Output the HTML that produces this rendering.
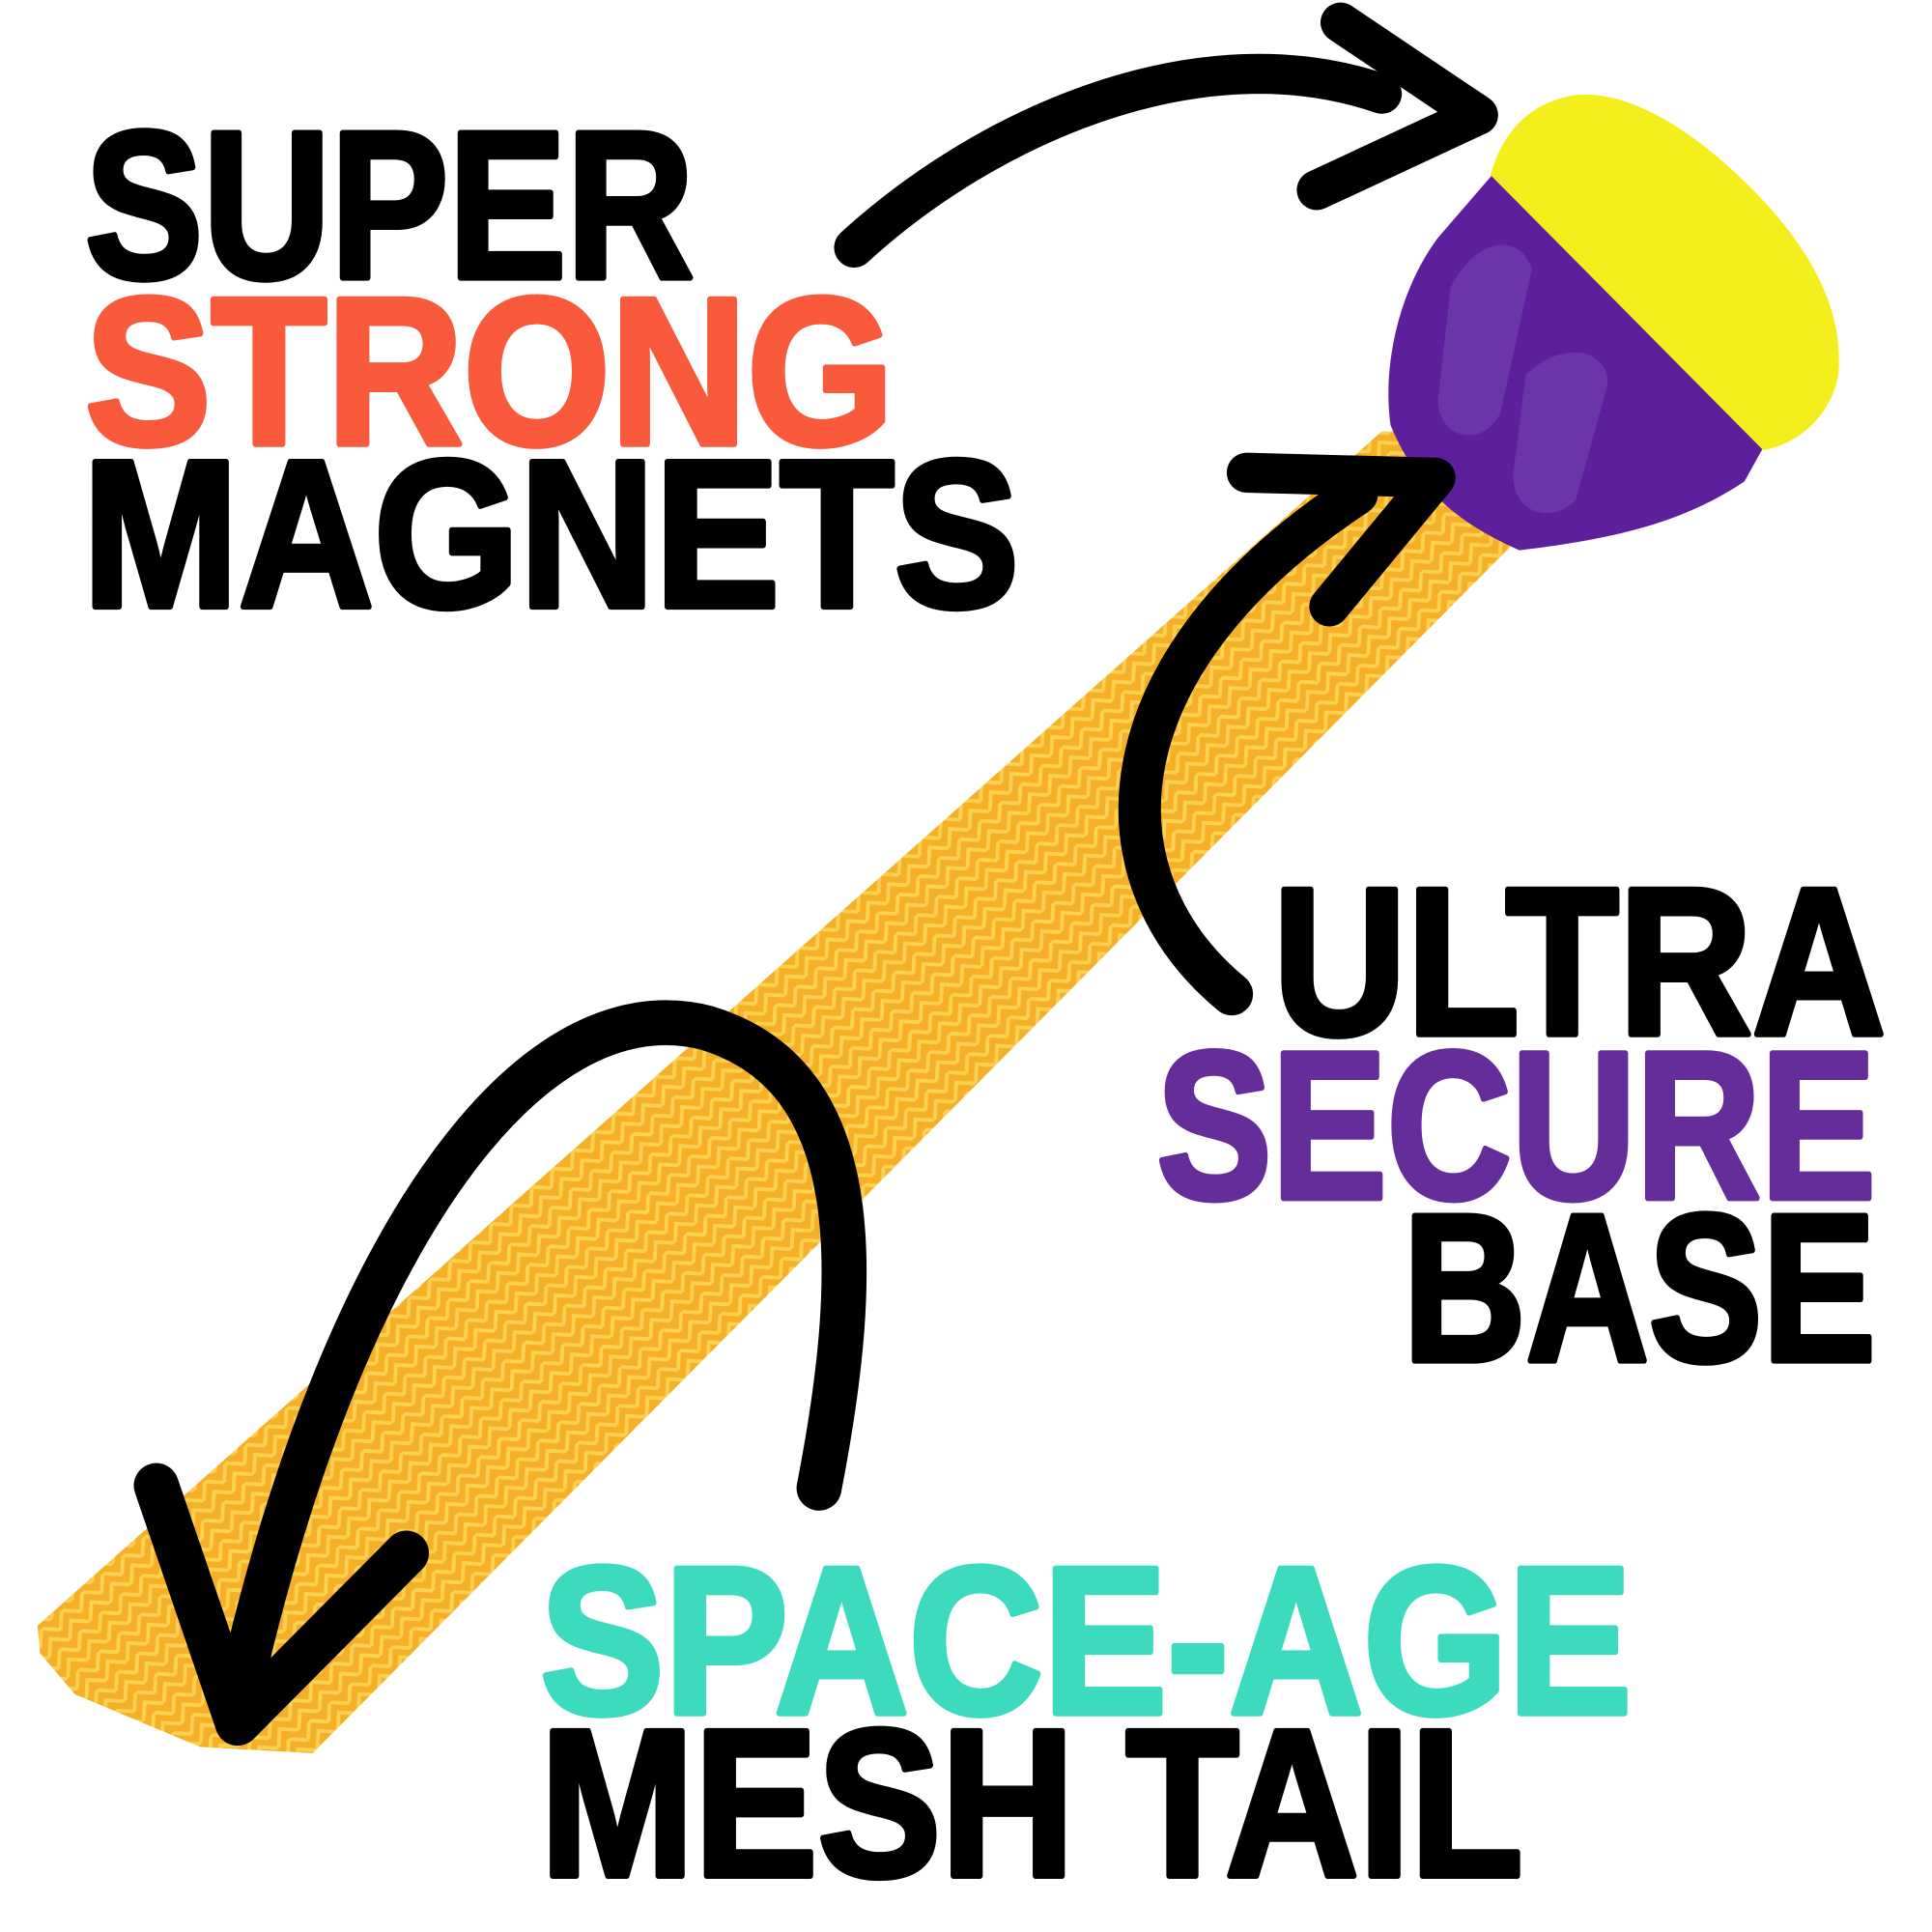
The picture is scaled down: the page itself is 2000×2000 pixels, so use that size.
<!DOCTYPE html>
<html><head><meta charset="utf-8"><style>
html,body{margin:0;padding:0;background:#fff;}
svg{display:block;}
text{font-family:"Liberation Sans",sans-serif;font-weight:bold;stroke-width:5;stroke-linejoin:round;}
</style></head><body>
<svg width="2000" height="2000" viewBox="0 0 1545 1545" xmlns="http://www.w3.org/2000/svg">
<rect width="1545" height="1545" fill="#fff"/>
<defs>
<pattern id="mesh" width="22" height="22" patternUnits="userSpaceOnUse" patternTransform="rotate(-42)">
<rect width="22" height="22" fill="#f6b027"/>
<path d="M0,11 L11,0 L22,11 M0,22 L11,11 L22,22" stroke="#fcd050" stroke-width="3" fill="none"/>
</pattern>
</defs>
<polygon points="30,1300 1105,345 1150,345 1210,435 250,1402 160,1397 60,1355 32,1322" fill="url(#mesh)"/>
<path d="M1195,138 L1410,358 L1395,385 C1350,415 1300,430 1215,440 C1170,420 1135,395 1112,340 C1105,290 1120,230 1150,190 Z" fill="#5e1f9c"/>
<path d="M1160,230 C1180,190 1215,185 1225,215 L1200,330 C1185,360 1150,350 1150,320 Z M1220,300 C1250,270 1290,280 1285,310 L1260,400 C1240,420 1210,410 1210,380 Z" fill="#6b34a8"/>
<path d="M1192,140 C1200,110 1220,82 1260,76 C1300,72 1350,100 1400,150 C1450,200 1475,250 1470,300 C1465,330 1440,355 1410,360 Z" fill="#f4ef1c"/>
<g fill="none" stroke="#000" stroke-linecap="round" stroke-linejoin="round">
<path d="M683,198 C790,100 960,25 1105,75" stroke-width="32"/>
<polyline points="1072,18 1182,92 1053,152" stroke-width="32"/>
<path d="M985,795 C870,700 880,530 1085,395" stroke-width="34"/>
<polyline points="997,378 1148,382 1063,485" stroke-width="32"/>
<path d="M655,1190 C690,1010 690,860 565,822 C420,785 270,1000 190,1360" stroke-width="36"/>
<polyline points="125,1188 190,1378 325,1242" stroke-width="36"/>
</g>
<text x="68" y="222" font-size="168" fill="#000" stroke="#000" textLength="487" lengthAdjust="spacingAndGlyphs">SUPER</text>
<text x="68" y="355" font-size="168" fill="#f95a3c" stroke="#f95a3c" textLength="647" lengthAdjust="spacingAndGlyphs">STRONG</text>
<text x="66" y="485" font-size="168" fill="#000" stroke="#000" textLength="749" lengthAdjust="spacingAndGlyphs">MAGNETS</text>
<text x="1018" y="827" font-size="168" fill="#000" stroke="#000" textLength="490" lengthAdjust="spacingAndGlyphs">ULTRA</text>
<text x="925" y="958" font-size="168" fill="#652d9a" stroke="#652d9a" textLength="575" lengthAdjust="spacingAndGlyphs">SECURE</text>
<text x="1122" y="1088" font-size="168" fill="#000" stroke="#000" textLength="378" lengthAdjust="spacingAndGlyphs">BASE</text>
<text x="432" y="1370" font-size="168" fill="#3ddbbd" stroke="#3ddbbd" textLength="873" lengthAdjust="spacingAndGlyphs">SPACE-AGE</text>
<text x="432" y="1500" font-size="168" fill="#000" stroke="#000" textLength="786" lengthAdjust="spacingAndGlyphs">MESH TAIL</text>
</svg>
</body></html>
